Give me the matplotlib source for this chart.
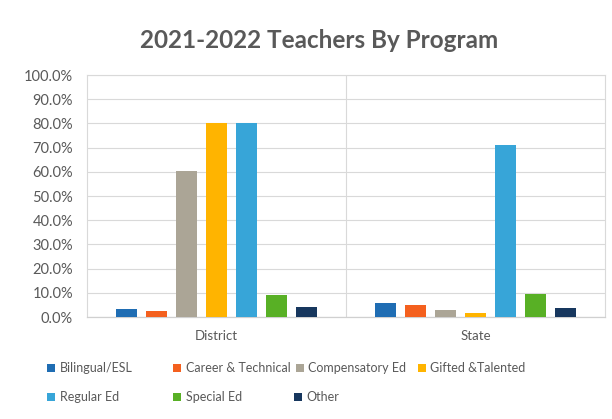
import matplotlib
matplotlib.use("Agg")
import matplotlib.pyplot as plt
from matplotlib.patches import Patch
import numpy as np

plt.rcParams['font.family'] = ['Lato', 'DejaVu Sans']

categories = ["District", "State"]
programs = ["Bilingual/ESL", "Career & Technical", "Compensatory Ed",
            "Gifted &Talented", "Regular Ed", "Special Ed", "Other"]
district = [3.2, 2.6, 60.2, 80.2, 80.2, 9.1, 4.3]
state = [5.9, 4.8, 2.8, 1.8, 71.2, 9.7, 3.7]
colors = ["#1F6DB3", "#F4601E", "#ABA596", "#FFB400",
          "#37A5D8", "#58B025", "#17375E"]
yticks = [0, 10, 20, 30, 40, 50, 60, 70, 80, 90, 100]

text_color = "#595959"
grid_color = "#D9D9D9"

fig = plt.figure(figsize=(6.12, 4.19), dpi=100)
ax = fig.add_axes([87 / 612, 1 - 317 / 419, (605 - 87) / 612, (317 - 75) / 419])

x = np.arange(len(categories))
n = len(programs)
step = 0.116
width = 0.082
for i, name in enumerate(programs):
    vals = [district[i], state[i]]
    ax.bar(x + (i - (n - 1) / 2) * step, vals, width=width,
           color=colors[i], label=name, zorder=3)

ax.set_xlim(-0.5, 1.5)
ax.set_ylim(0, 100)
ax.set_yticks(yticks)
ax.set_yticklabels([f"{v:.1f}%" for v in yticks], color=text_color, fontsize=10.5)
ax.set_xticks(x)
ax.set_xticklabels(categories, color=text_color, fontsize=9.5)
ax.tick_params(axis='both', length=0)
ax.tick_params(axis='y', pad=10)
ax.tick_params(axis='x', pad=9)

ax.grid(axis='y', color=grid_color, linewidth=0.8, zorder=0)
ax.axvline(0.5, color=grid_color, linewidth=0.8, zorder=0)
for side in ["top", "right", "left"]:
    ax.spines[side].set_color(grid_color)
    ax.spines[side].set_linewidth(0.8)
ax.spines["bottom"].set_color("#D0D0D0")
ax.spines["bottom"].set_linewidth(0.9)

fig.text(319 / 612, 1 - 40 / 419, "2021-2022 Teachers By Program",
         ha='center', va='center', fontsize=17.5, fontweight='bold',
         color=text_color)

# legend laid out in a fixed grid, four entries per row
legend_pos = [(47, 368), (173, 368), (296, 368), (418, 368),
              (47, 397), (173, 397), (294, 397)]
for name, col, (px, py) in zip(programs, colors, legend_pos):
    fig.legend(handles=[Patch(facecolor=col, label=name)],
               loc='center left', bbox_to_anchor=(px / 612, 1 - py / 419),
               frameon=False, fontsize=9, labelcolor=text_color,
               handlelength=0.6, handleheight=0.6, handletextpad=0.4,
               borderpad=0, borderaxespad=0)

fig.savefig("out.png", dpi=100)
